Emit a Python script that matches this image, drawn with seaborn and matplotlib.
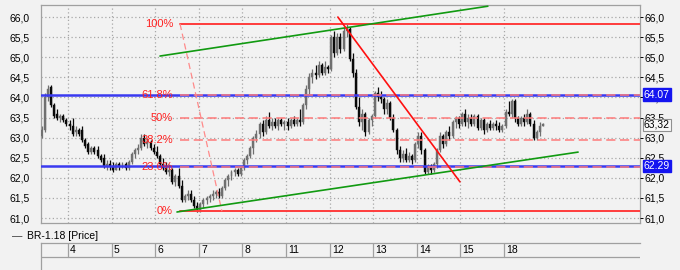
import matplotlib
matplotlib.use("Agg")
import matplotlib.pyplot as plt
import matplotlib.transforms as mtransforms
import numpy as np
import pandas as pd
import seaborn as sns

# ---------------- data ----------------
day_labels = ["4", "5", "6", "7", "8", "11", "12", "13", "14", "15", "18"]
candles_per_day = 14
first_slot = -9          # first candle belongs to the (partial) previous day

opens = [
    # day 3 (partial)
    63.05, 63.20, 64.00, 64.25, 63.80, 63.60, 63.50, 63.55, 63.45,
    # 4
    63.35, 63.30, 63.15, 63.20, 63.20, 62.95, 62.85, 62.65, 62.75, 62.70, 62.55, 62.50, 62.30, 62.35,
    # 5
    62.30, 62.20, 62.35, 62.30, 62.35, 62.25, 62.40, 62.60, 62.70, 62.75, 63.00, 62.85, 62.90, 62.75,
    # 6
    62.65, 62.55, 62.35, 62.25, 62.15, 62.20, 61.90, 62.05, 61.80, 61.45, 61.55, 61.60, 61.45, 61.30,
    # 7
    61.20, 61.35, 61.45, 61.50, 61.55, 61.60, 61.65, 61.55, 61.75, 61.95, 62.05, 62.15, 62.20, 62.10,
    # 8
    62.25, 62.45, 62.55, 62.75, 63.00, 63.10, 63.35, 63.15, 63.45, 63.30, 63.40, 63.30, 63.45, 63.35,
    # 11
    63.40, 63.30, 63.45, 63.35, 63.45, 63.40, 63.80, 64.20, 64.50, 64.60, 64.55, 64.80, 64.60, 64.75,
    # 12
    64.70, 65.50, 65.10, 65.50, 65.20, 65.65, 65.70, 64.95, 64.60, 63.75, 63.40, 63.60, 63.15, 63.45,
    # 13
    63.55, 64.10, 64.00, 63.95, 63.70, 63.85, 63.50, 63.20, 62.70, 62.50, 62.60, 62.45, 62.55, 62.45,
    # 14
    62.85, 63.05, 62.70, 62.15, 62.30, 62.20, 62.35, 62.70, 63.05, 62.85, 63.15, 63.05, 63.40, 63.50,
    # 15
    63.35, 63.60, 63.40, 63.50, 63.35, 63.55, 63.25, 63.45, 63.20, 63.35, 63.25, 63.35, 63.30, 63.20,
    # 18
    63.30, 63.65, 63.60, 63.90, 63.50, 63.35, 63.50, 63.40, 63.60, 63.35, 63.00, 63.15, 63.30,
]
highs = [
    63.30, 64.10, 64.30, 64.30, 63.85, 63.70, 63.60, 63.60, 63.50,
    63.45, 63.50, 63.30, 63.25, 63.30, 63.00, 62.90, 62.80, 62.80, 62.80, 62.60, 62.60, 62.45, 62.45,
    62.40, 62.40, 62.40, 62.40, 62.40, 62.45, 62.65, 62.75, 62.85, 63.10, 63.10, 63.00, 62.95, 62.85,
    62.80, 62.60, 62.50, 62.40, 62.35, 62.25, 62.10, 62.25, 61.95, 61.60, 61.70, 61.70, 61.55, 61.40,
    61.40, 61.50, 61.55, 61.60, 61.70, 61.70, 61.75, 61.80, 62.00, 62.10, 62.20, 62.25, 62.25, 62.30,
    62.50, 62.60, 62.80, 63.05, 63.20, 63.40, 63.45, 63.55, 63.65, 63.50, 63.50, 63.50, 63.50, 63.45,
    63.50, 63.50, 63.55, 63.50, 63.70, 63.85, 64.30, 64.60, 64.70, 64.80, 64.90, 64.85, 64.90, 64.80,
    65.55, 65.65, 65.60, 65.60, 65.75, 65.82, 65.75, 65.10, 64.70, 64.00, 63.70, 63.65, 63.50, 63.60,
    64.15, 64.25, 64.15, 64.00, 63.95, 63.90, 63.60, 63.25, 62.80, 62.70, 62.75, 62.65, 62.60, 62.90,
    63.15, 63.15, 62.75, 62.35, 62.35, 62.40, 62.75, 63.15, 63.10, 63.20, 63.30, 63.45, 63.55, 63.55,
    63.65, 63.70, 63.60, 63.60, 63.60, 63.60, 63.50, 63.50, 63.40, 63.45, 63.40, 63.45, 63.40, 63.35,
    63.70, 63.90, 63.95, 63.95, 63.55, 63.55, 63.60, 63.70, 63.65, 63.45, 63.20, 63.40, 63.36,
]
lows = [
    63.00, 63.15, 63.90, 63.75, 63.50, 63.45, 63.40, 63.40, 63.30,
    63.20, 63.05, 63.05, 63.05, 62.90, 62.75, 62.60, 62.60, 62.60, 62.50, 62.40, 62.25, 62.20, 62.20,
    62.15, 62.20, 62.20, 62.25, 62.20, 62.20, 62.35, 62.50, 62.60, 62.70, 62.80, 62.75, 62.70, 62.60,
    62.50, 62.30, 62.20, 62.10, 62.05, 61.85, 61.80, 61.75, 61.40, 61.40, 61.45, 61.40, 61.25, 61.15,
    61.15, 61.25, 61.35, 61.40, 61.45, 61.50, 61.50, 61.50, 61.70, 61.80, 61.95, 62.05, 62.05, 62.05,
    62.20, 62.35, 62.50, 62.60, 62.90, 63.00, 63.05, 63.10, 63.25, 63.20, 63.25, 63.20, 63.30, 63.20,
    63.20, 63.25, 63.30, 63.30, 63.30, 63.35, 63.70, 64.05, 64.35, 64.45, 64.50, 64.55, 64.55, 64.60,
    64.65, 65.00, 65.05, 65.10, 65.15, 65.50, 64.90, 64.50, 63.70, 63.30, 63.20, 63.05, 63.10, 63.30,
    63.50, 63.90, 63.85, 63.60, 63.60, 63.45, 63.15, 62.60, 62.40, 62.40, 62.40, 62.40, 62.35, 62.40,
    62.75, 62.60, 62.10, 62.10, 62.10, 62.15, 62.25, 62.65, 62.75, 62.80, 62.95, 63.00, 63.25, 63.25,
    63.30, 63.30, 63.25, 63.30, 63.30, 63.20, 63.20, 63.10, 63.15, 63.20, 63.20, 63.20, 63.15, 63.15,
    63.25, 63.55, 63.50, 63.40, 63.30, 63.30, 63.30, 63.35, 63.30, 62.95, 62.95, 63.05, 63.30,
]
closes = [
    63.20, 64.00, 64.20, 63.80, 63.55, 63.50, 63.55, 63.45, 63.35,
    63.30, 63.10, 63.20, 63.10, 62.95, 62.80, 62.65, 62.75, 62.65, 62.55, 62.45, 62.30, 62.35, 62.30,
    62.20, 62.35, 62.30, 62.35, 62.25, 62.40, 62.60, 62.70, 62.75, 63.00, 62.85, 62.90, 62.75, 62.65,
    62.55, 62.35, 62.25, 62.15, 62.20, 61.90, 62.05, 61.80, 61.45, 61.55, 61.60, 61.45, 61.30, 61.20,
    61.35, 61.45, 61.50, 61.55, 61.60, 61.65, 61.55, 61.75, 61.95, 62.05, 62.15, 62.20, 62.10, 62.25,
    62.45, 62.55, 62.75, 63.00, 63.10, 63.35, 63.15, 63.45, 63.30, 63.40, 63.30, 63.45, 63.35, 63.40,
    63.30, 63.45, 63.35, 63.45, 63.40, 63.80, 64.20, 64.50, 64.60, 64.55, 64.80, 64.60, 64.75, 64.70,
    65.50, 65.10, 65.50, 65.20, 65.65, 65.70, 64.95, 64.60, 63.75, 63.40, 63.60, 63.15, 63.45, 63.55,
    64.10, 64.00, 63.95, 63.70, 63.85, 63.50, 63.20, 62.70, 62.50, 62.60, 62.45, 62.55, 62.45, 62.85,
    63.05, 62.70, 62.15, 62.30, 62.20, 62.35, 62.70, 63.05, 62.85, 63.15, 63.05, 63.40, 63.50, 63.35,
    63.60, 63.40, 63.50, 63.35, 63.55, 63.25, 63.45, 63.20, 63.35, 63.25, 63.35, 63.30, 63.20, 63.30,
    63.65, 63.60, 63.90, 63.50, 63.35, 63.50, 63.40, 63.60, 63.35, 63.00, 63.15, 63.30, 63.32,
]

fib_high = 65.83
fib_low = 61.17
fib_start_day = 2.57
fib_ratios = [1.0, 0.618, 0.5, 0.382, 0.236, 0.0]
fib_texts = ["100%", "61.8%", "50%", "38.2%", "23.6%", "0%"]
fib_diag_days = [2.57, 3.53]

upper_channel_days = [2.11, 9.63]
upper_channel_prices = [65.03, 66.27]
lower_channel_days = [2.50, 11.70]
lower_channel_prices = [61.15, 62.64]
down_trend_days = [6.19, 8.99]
down_trend_prices = [66.00, 61.90]

blue_levels = [64.07, 62.29]
last_price = 63.32
legend_text = "BR-1.18 [Price]"
y_ticks = [61.0, 61.5, 62.0, 62.5, 63.0, 63.5, 64.0, 64.5, 65.0, 65.5, 66.0]

# ---------------- style ----------------
sns.set_theme(style="whitegrid")
plt.rcParams["font.family"] = ["Liberation Sans", "DejaVu Sans"]
plt.rcParams["font.size"] = 7.5

BG = "#f2f2f2"
W, H = 680, 270
fig = plt.figure(figsize=(W / 100, H / 100), dpi=100, facecolor=BG)

x0, x1 = 41, 640
ytop, ybot = 5, 223
ax = fig.add_axes([x0 / W, (H - ybot) / H, (x1 - x0) / W, (ybot - ytop) / H])
ax.set_facecolor(BG)
XLIM = (-0.619, 13.12)
YLIM = (60.876, 66.30)
ax.set_xlim(*XLIM)
ax.set_ylim(*YLIM)

# grid
ax.grid(False)
for d in range(len(day_labels)):
    ax.axvline(d, color="#a8a8a8", lw=0.9, ls=(0, (1, 2)), zorder=0)
for v in y_ticks:
    ax.axhline(v, color="#a8a8a8", lw=0.9, ls=(0, (1, 2)), zorder=0)

# candles
n = len(closes)
df = pd.DataFrame({"open": opens, "high": highs, "low": lows, "close": closes})
df["slot"] = np.arange(n) + first_slot
df["x"] = (df["slot"] + 0.5) / candles_per_day
df["up"] = df["close"] >= df["open"]
colors = np.where(df["up"], "#707070", "#0a0a0a")
ax.vlines(df["x"], df["low"], df["high"], colors=colors, lw=0.9, zorder=3)
body_h = np.maximum((df["close"] - df["open"]).abs(), 0.03)
body_b = np.minimum(df["close"], df["open"])
ax.bar(df["x"], body_h, bottom=body_b, width=0.045, color=colors,
       edgecolor=colors, linewidth=0.3, zorder=4)

# blue support/resistance
for lv in blue_levels:
    ax.axhline(lv, color="#3a3af0", lw=1.8, zorder=5)

# fibonacci
fib_range = fib_high - fib_low
for r, t in zip(fib_ratios, fib_texts):
    lv = fib_low + r * fib_range
    if r in (0.0, 1.0):
        ax.plot([fib_start_day, XLIM[1]], [lv, lv], color="#ff3c3c", lw=1.4, zorder=6)
    else:
        ax.plot([fib_start_day, XLIM[1]], [lv, lv], color="#ff7a7a", lw=1.1,
                ls=(0, (6, 3)), zorder=6)
    ax.text(fib_start_day - 0.16, lv, t, color="#ff2020", ha="right", va="center",
            fontsize=8, zorder=7)
ax.plot(fib_diag_days, [fib_high, fib_low], color="#ff8a8a", lw=0.9,
        ls=(0, (5, 3)), zorder=6)

# trend lines
trend = pd.DataFrame({
    "day": upper_channel_days + lower_channel_days + down_trend_days,
    "price": upper_channel_prices + lower_channel_prices + down_trend_prices,
    "line": ["upper"] * 2 + ["lower"] * 2 + ["down"] * 2,
})
sns.lineplot(data=trend, x="day", y="price", hue="line",
             palette={"upper": "#119a11", "lower": "#119a11", "down": "#ff1010"},
             lw=1.2, legend=False, ax=ax, zorder=8, estimator=None, sort=False)
ax.set_xlim(*XLIM)
ax.set_ylim(*YLIM)
ax.set_xlabel("")
ax.set_ylabel("")

# axes decoration
fmt = [f"{v:.1f}".replace(".", ",") for v in y_ticks]
ax.set_yticks(y_ticks)
ax.set_yticklabels(fmt)
ax.set_xticks([])
ax.tick_params(axis="y", left=False, length=0, pad=8, labelsize=7.5, colors="#000000")
for s in ax.spines.values():
    s.set_color("#a0a0a0")
    s.set_linewidth(0.9)

axr = ax.twinx()
axr.set_ylim(*YLIM)
axr.set_yticks(y_ticks)
axr.set_yticklabels(fmt)
axr.tick_params(axis="y", right=True, length=2, width=0.7, pad=1.5, labelsize=7.5,
                colors="#000000")
axr.grid(False)
for s in axr.spines.values():
    s.set_visible(False)

# price boxes on the right axis, drawn above the tick labels
trans = mtransforms.blended_transform_factory(axr.transAxes, axr.transData)
for lv in blue_levels:
    axr.text(1.0065, lv, f"{lv:.2f}", transform=trans, ha="left", va="center",
             fontsize=7.5, color="white", clip_on=False, zorder=20,
             bbox=dict(boxstyle="square,pad=0.12", facecolor="#1414f0", edgecolor="#1414f0"))
axr.text(1.0065, last_price, f"{last_price:.2f}".replace(".", ","), transform=trans,
         ha="left", va="center", fontsize=7.5, color="#000000", clip_on=False, zorder=20,
         bbox=dict(boxstyle="square,pad=0.12", facecolor="#f8f8f8", edgecolor="#909090",
                   linewidth=0.8))

# legend text
fig.text(12 / W, 1 - 236 / H, "—", fontsize=7.5, va="center", ha="left", color="#333333")
fig.text(27 / W, 1 - 236 / H, legend_text, fontsize=7.5, va="center", ha="left",
         color="#000000")

# date axis
axd = fig.add_axes([x0 / W, 0, (x1 - x0) / W, (H - 243) / H])
axd.set_facecolor(BG)
axd.set_xlim(*XLIM)
axd.set_ylim(0, 1)
axd.grid(False)
axd.set_xticks([])
axd.set_yticks([])
for k in ["right", "bottom"]:
    axd.spines[k].set_visible(False)
for k in ["top", "left"]:
    axd.spines[k].set_color("#a0a0a0")
    axd.spines[k].set_linewidth(0.9)
axd.axhline(0.48, color="#a0a0a0", lw=0.9)
for d, lab in enumerate(day_labels):
    axd.plot([d, d], [0.48, 1.0], color="#a0a0a0", lw=0.9)
    axd.text(d + 0.05, 0.74, lab, fontsize=7.5, ha="left", va="center", color="#000000")

fig.savefig("out.png", dpi=100, facecolor=BG)
